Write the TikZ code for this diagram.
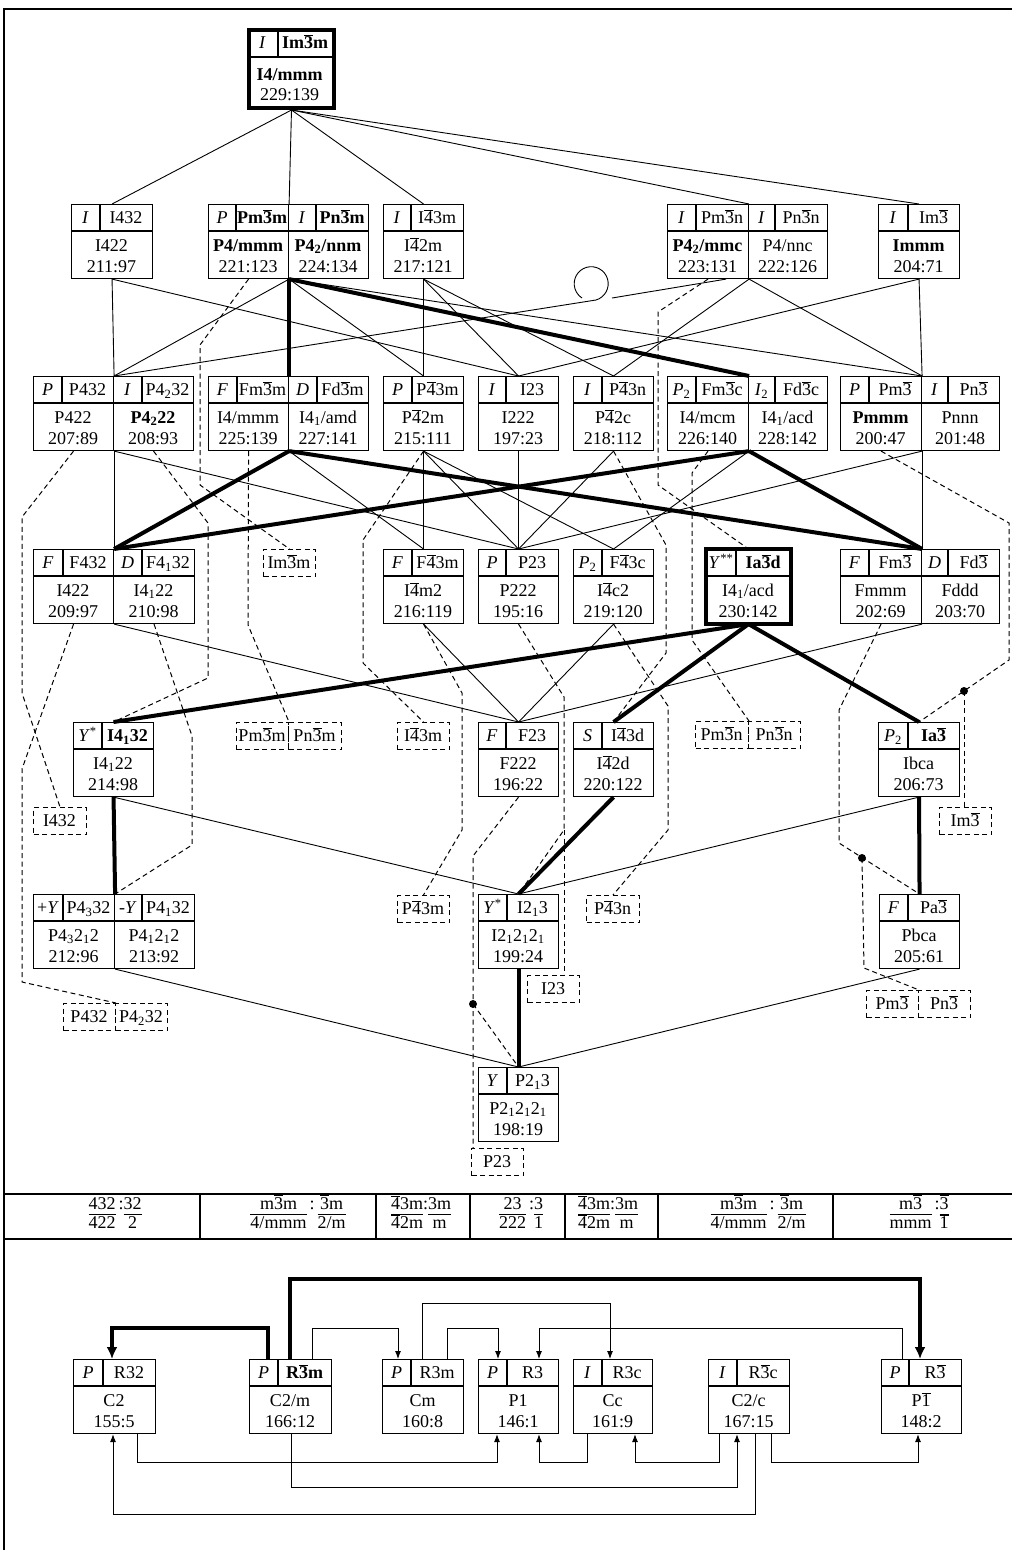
\documentclass[tikz,border=0pt]{standalone}
\usepackage{fontspec}
\setmainfont{Liberation Serif}
\usetikzlibrary{arrows.meta}
\newcommand{\ob}[1]{\ensuremath{\overline{\mbox{#1}}}}
\newcommand{\sbs}[1]{\textsubscript{#1}}
\newcommand{\fr}[2]{\begin{tabular}[t]{@{}c@{}}#1\\[-1pt]\hline #2\end{tabular}}
\tikzset{
 ln/.style={line width=0.9pt},
 tk/.style={line width=4pt},
 ds/.style={line width=1pt, dash pattern=on 5pt off 3.5pt},
 cell/.style={draw, line width=1.1pt, anchor=north west, inner sep=0pt, minimum height=74},
 tx/.style={inner sep=0pt, text height=12.5pt, text depth=0pt, font=\fontsize{18}{20}\selectfont},
 tbl/.style={inner sep=0pt, anchor=base, font=\fontsize{18}{20}\selectfont},
 dbox/.style={draw, ds, anchor=north west, inner sep=0pt, minimum height=27},
 dot/.style={circle, fill, inner sep=0pt, minimum size=8pt},
 arr/.style={ln, -{Latex[length=8pt,width=6pt]}},
 tarr/.style={tk, -{Latex[length=12pt,width=11pt]}},
}
\newcommand{\gbox}[9]{%
 \node[cell, minimum width={#4-#2}] (#1) at (#2,#5) {};
 \draw[line width=1.1pt] (#2,{#5+27}) -- (#4,{#5+27});
 \draw[line width=1.1pt] (#3,#5) -- (#3,{#5+27});
 \node[tx] (#1-l) at ({(#2+#3)/2},{#5+13.5}) {#6};
 \node[tx] (#1-s) at ({(#3+#4)/2},{#5+13.5}) {#7};
 \node[tx] (#1-n) at ({(#2+#4)/2},{#5+41}) {#8};
 \node[tx] (#1-c) at ({(#2+#4)/2},{#5+62}) {#9};
}
\newcommand{\dbx}[5]{%
 \node[dbox, minimum width={#3-#2}] (#1) at (#2,#4) {};
 \node[tx] (#1-t) at ({(#2+#3)/2},{#4+13.5}) {#5};
}
\begin{document}
\begin{tikzpicture}[x=1pt,y=-1pt]
\useasboundingbox (0,0) rectangle (1012,1550);
\draw[line width=1.1pt] (1012,9) -- (4,9) -- (4,1550);

% top box
\node[cell, line width=4pt, minimum width=85, minimum height=78] (T) at (247,28) {};
\draw[line width=1.1pt] (247,57) -- (332,57);
\draw[line width=1.1pt] (278,28) -- (278,57);
\node[tx] (T-l) at (262.5,42.5) {\textit{I}};
\node[tx] (T-s) at (305,42.5) {\textbf{Im\ob{3}m}};
\node[tx] (T-n) at (289.5,74) {\textbf{I4/mmm}};
\node[tx] (T-c) at (289.5,94) {229:139};

% row 2
\gbox{A1}{71}{100}{152}{204}{\textit{I}}{I432}{I422}{211:97}
\gbox{A2L}{208}{236}{288}{204}{\textit{P}}{\textbf{Pm\ob{3}m}}{\textbf{P4/mmm}}{221:123}
\gbox{A2R}{288}{316}{368}{204}{\textit{I}}{\textbf{Pn\ob{3}m}}{\textbf{P4\sbs{2}/nnm}}{224:134}
\gbox{A3}{383}{411}{463}{204}{\textit{I}}{I\ob{4}3m}{I\ob{4}2m}{217:121}
\gbox{A4L}{667}{696}{748}{204}{\textit{I}}{Pm\ob{3}n}{\textbf{P4\sbs{2}/mmc}}{223:131}
\gbox{A4R}{748}{775}{827}{204}{\textit{I}}{Pn\ob{3}n}{P4/nnc}{222:126}
\gbox{A5}{878}{908}{959}{204}{\textit{I}}{Im\ob{3}}{\textbf{Immm}}{204:71}

% row 3
\gbox{B1L}{33}{62}{113}{376}{\textit{P}}{P432}{P422}{207:89}
\gbox{B1R}{113}{142}{193}{376}{\textit{I}}{P4\sbs{2}32}{\textbf{P4\sbs{2}22}}{208:93}
\gbox{B2L}{208}{237}{288}{376}{\textit{F}}{Fm\ob{3}m}{I4/mmm}{225:139}
\gbox{B2R}{288}{317}{368}{376}{\textit{D}}{Fd\ob{3}m}{I4\sbs{1}/amd}{227:141}
\gbox{B3}{383}{412}{463}{376}{\textit{P}}{P\ob{4}3m}{P\ob{4}2m}{215:111}
\gbox{B4}{478}{506}{558}{376}{\textit{I}}{I23}{I222}{197:23}
\gbox{B5}{573}{602}{653}{376}{\textit{I}}{P\ob{4}3n}{P\ob{4}2c}{218:112}
\gbox{B6L}{667}{696}{748}{376}{\textit{P}\sbs{2}}{Fm\ob{3}c}{I4/mcm}{226:140}
\gbox{B6R}{748}{775}{827}{376}{\textit{I}\sbs{2}}{Fd\ob{3}c}{I4\sbs{1}/acd}{228:142}
\gbox{B7L}{840}{869}{921}{376}{\textit{P}}{Pm\ob{3}}{\textbf{Pmmm}}{200:47}
\gbox{B7R}{921}{948}{999}{376}{\textit{I}}{Pn\ob{3}}{Pnnn}{201:48}

% row 4
\gbox{C1L}{33}{63}{113}{549}{\textit{F}}{F432}{I422}{209:97}
\gbox{C1R}{113}{142}{194}{549}{\textit{D}}{F4\sbs{1}32}{I4\sbs{1}22}{210:98}
\dbx{C2}{263}{315}{549}{Im\ob{3}m}
\gbox{C3}{383}{412}{463}{549}{\textit{F}}{F\ob{4}3m}{I\ob{4}m2}{216:119}
\gbox{C4}{478}{506}{558}{549}{\textit{P}}{P23}{P222}{195:16}
\gbox{C5}{573}{602}{653}{549}{\textit{P}\sbs{2}}{F\ob{4}3c}{I\ob{4}c2}{219:120}
\gbox{C6}{706}{736}{790}{549}{\textit{Y}\textsuperscript{**}}{\textbf{Ia\ob{3}d}}{I4\sbs{1}/acd}{230:142}
\draw[line width=4pt] (C6.north west) rectangle (C6.south east);
\gbox{C7L}{840}{869}{921}{549}{\textit{F}}{Fm\ob{3}}{Fmmm}{202:69}
\gbox{C7R}{921}{948}{999}{549}{\textit{D}}{Fd\ob{3}}{Fddd}{203:70}

% row 5
\gbox{E1}{73}{102}{153}{722}{\textit{Y}\textsuperscript{*}}{\textbf{I4\sbs{1}32}}{I4\sbs{1}22}{214:98}
\dbx{dAL}{236}{288}{722}{Pm\ob{3}m}
\dbx{dAR}{288}{341}{722}{Pn\ob{3}m}
\dbx{dB}{397}{449}{722}{I\ob{4}3m}
\gbox{E2}{478}{506}{558}{722}{\textit{F}}{F23}{F222}{196:22}
\gbox{E3}{573}{602}{653}{722}{\textit{S}}{I\ob{4}3d}{I\ob{4}2d}{220:122}
\dbx{dCL}{695}{748}{721}{Pm\ob{3}n}
\dbx{dCR}{748}{800}{721}{Pn\ob{3}n}
\gbox{E4}{878}{908}{959}{722}{\textit{P}\sbs{2}}{\textbf{Ia\ob{3}}}{Ibca}{206:73}
\dbx{dD}{33}{86}{807}{I432}
\dbx{dE}{939}{991}{807}{Im\ob{3}}

% row 6
\gbox{F1L}{33}{63}{114}{894}{+\textit{Y}}{P4\sbs{3}32}{P4\sbs{3}2\sbs{1}2}{212:96}
\gbox{F1R}{114}{142}{194}{894}{-\textit{Y}}{P4\sbs{1}32}{P4\sbs{1}2\sbs{1}2}{213:92}
\dbx{dF}{397}{449}{895}{P\ob{4}3m}
\gbox{F2}{478}{507}{558}{894}{\textit{Y}\textsuperscript{*}}{I2\sbs{1}3}{I2\sbs{1}2\sbs{1}2\sbs{1}}{199:24}
\dbx{dG}{586}{639}{895}{P\ob{4}3n}
\gbox{F3}{879}{908}{959}{894}{\textit{F}}{Pa\ob{3}}{Pbca}{205:61}
\dbx{dH}{527}{579}{975}{I23}
\dbx{dIL}{63}{115}{1003}{P432}
\dbx{dIR}{115}{167}{1003}{P4\sbs{2}32}
\dbx{dJL}{866}{918}{990}{Pm\ob{3}}
\dbx{dJR}{918}{970}{990}{Pn\ob{3}}

% row 7
\gbox{G}{478}{507}{558}{1067}{\textit{Y}}{P2\sbs{1}3}{P2\sbs{1}2\sbs{1}2\sbs{1}}{198:19}
\dbx{dK}{471}{523}{1148}{P23}

% bullets
\node[dot] (b1) at (473,1004) {};
\node[dot] (b2) at (862,858) {};
\node[dot] (b3) at (964,691) {};

% ---- solid connectors
\draw[ln] (T.south) -- (A1.north);
\draw[ln] (T.south) -- (A2L.north east);
\draw[ln] (T.south) -- (A3.north);
\draw[ln] (T.south) -- (A4L.north east);
\draw[ln] (T.south) -- (A5.north);

\draw[ln] (A1.south) -- (B1L.north east);
\draw[ln] (A1.south) -- (B4.north);
\draw[ln] (A2L.south east) -- (B1L.north east);
\draw[tk] (A2L.south east) -- (B2L.north east);
\draw[ln] (A2L.south east) -- (B3.north);
\draw[tk] (A2L.south east) -- (B6L.north east);
\draw[ln] (A2L.south east) -- (B7L.north east);
\draw[ln] (A3.south) -- (B3.north);
\draw[ln] (A3.south) -- (B4.north);
\draw[ln] (A3.south) -- (B5.north);
\draw[ln] (A4L.south east) -- (B5.north);
\draw[ln] (A4L.south east) -- (B7L.north east);
\draw[ln] (B1L.north east) -- (596,300) arc[start angle=73.6, end angle=-237.3, radius=17];
\draw[ln] (612,298) -- (726,0 |- A4L.south);
\draw[ln] (A5.south) -- (B4.north);
\draw[ln] (A5.south) -- (B7L.north east);

\draw[ln] (B1L.south east) -- (C1L.north east);
\draw[ln] (B1L.south east) -- (C4.north);
\draw[tk] (B2L.south east) -- (C1L.north east);
\draw[ln] (B2L.south east) -- (C3.north);
\draw[tk] (B2L.south east) -- (C7L.north east);
\draw[ln] (B3.south) -- (C3.north);
\draw[ln] (B3.south) -- (C4.north);
\draw[ln] (B3.south) -- (C5.north);
\draw[ln] (B4.south) -- (C4.north);
\draw[ln] (B5.south) -- (C4.north);
\draw[tk] (B6L.south east) -- (C1L.north east);
\draw[ln] (B6L.south east) -- (C5.north);
\draw[tk] (B6L.south east) -- (C7L.north east);
\draw[ln] (B7L.south east) -- (C4.north);
\draw[ln] (B7L.south east) -- (C7L.north east);

\draw[ln] (C1L.south east) -- (E2.north);
\draw[ln] (C3.south) -- (E2.north);
\draw[ln] (C5.south) -- (E2.north);
\draw[ln] (C7L.south east) -- (E2.north);
\draw[tk] (C6.south) -- (E1.north);
\draw[tk] (C6.south) -- (E3.north);
\draw[tk] (C6.south) -- (E4.north);

\draw[tk] (E1.south) -- (F1L.north east);
\draw[ln] (E1.south) -- (F2.north);
\draw[tk] (E3.south) -- (F2.north);
\draw[ln] (E4.south) -- (F2.north);
\draw[tk] (E4.south) -- (F3.north);

\draw[ln] (F1L.south east) -- (G.north);
\draw[tk] (F2.south) -- (G.north);
\draw[ln] (F3.south) -- (G.north);

% ---- dashed connectors
\draw[ds] (A2L.south) -- (200,345) -- (200,485) -- (C2.north);
\draw[ds] (B2L.south) -- (248,625) -- (dAL.north east);
\draw[ds] (B1L.south) -- (22,517) -- (22,693) -- (dD.north);
\draw[ds] (C1L.south) -- (22,769) -- (22,982) -- (dIL.north east);
\draw[ds] (B1R.south) -- (208,523) -- (208,678) -- (E1.north);
\draw[ds] (C1R.south) -- (192,736) -- (192,845) -- (F1L.north east);
\draw[ds] (B3.south) -- (363,540) -- (363,663) -- (dB.north);
\draw[ds] (C3.south) -- (462,693) -- (462,830) -- (dF.north);
\draw[ds] (B5.south) -- (666,545) -- (666,653) -- (E3.north);
\draw[ds] (C5.south) -- (668,706) -- (668,830) -- (dG.north);
\draw[ds] (C4.south) -- (564,697) -- (564,830) -- (F2.north);
\draw[ds] (564,830) -- (564,0 |- dH.north);
\draw[ds] (E2.south) -- (473,856) -- (473,0 |- dK.north);
\draw[ds] (b1.center) -- (G.north);
\draw[ds] (C7L.south) -- (839,710) -- (839,843) -- (F3.north);
\draw[ds] (b2.center) -- (864,968) -- (dJL.north east);
\draw[ds] (B7L.south) -- (1009,523) -- (1009,660) -- (E4.north);
\draw[ds] (b3.center) -- (964,0 |- dE.north);
\draw[ds] (A4L.south) -- (658,312) -- (658,485) -- (C6.north);
\draw[ds] (B6L.south) -- (692,473) -- (692,640) -- (dCL.north east);

% ---- table
\draw[line width=1.1pt] (4,1194) -- (1012,1194);
\draw[line width=1.1pt] (4,1239) -- (1012,1239);
\foreach \xx in {200,376,470,565,658,833} \draw[line width=1.1pt] (\xx,1194) -- (\xx,1239);
\node[tbl] (t1) at (115,1209) {\fr{432}{422}\,:\fr{32}{2}};
\node[tbl] (t2) at (298,1209) {\fr{m\ob{3}m}{4/mmm}\,:\,\fr{\ob{3}m}{2/m}};
\node[tbl] (t3) at (421,1209) {\fr{\ob{4}3m}{\ob{4}2m}:\fr{3m}{m}};
\node[tbl] (t4) at (521,1209) {\fr{23}{222}\,:\fr{3}{1}};
\node[tbl] (t5) at (608,1209) {\fr{\ob{4}3m}{\ob{4}2m}:\fr{3m}{m}};
\node[tbl] (t6) at (758,1209) {\fr{m\ob{3}m}{4/mmm}\,:\,\fr{\ob{3}m}{2/m}};
\node[tbl] (t7) at (919,1209) {\fr{m\ob{3}}{mmm}\,:\fr{\ob{3}}{\ob{1}}};

% ---- bottom section
\gbox{H1}{73}{103}{155}{1359}{\textit{P}}{R32}{C2}{155:5}
\gbox{H2}{249}{278}{331}{1359}{\textit{P}}{\textbf{R\ob{3}m}}{C2/m}{166:12}
\gbox{H3}{382}{411}{463}{1359}{\textit{P}}{R3m}{Cm}{160:8}
\gbox{H4}{478}{507}{558}{1359}{\textit{P}}{R3}{P1}{146:1}
\gbox{H5}{573}{602}{652}{1359}{\textit{I}}{R3c}{Cc}{161:9}
\gbox{H6}{708}{737}{789}{1359}{\textit{I}}{R\ob{3}c}{C2/c}{167:15}
\gbox{H7}{881}{909}{961}{1359}{\textit{P}}{R\ob{3}}{P\ob{1}}{148:2}

\draw[tarr] (268,0 |- H2.north) -- (268,1328) -| (112,0 |- H1.north);
\draw[tarr] (290,0 |- H2.north) -- (290,1279) -| (920,0 |- H7.north);
\draw[arr] (312,0 |- H2.north) -- (312,1328) -| (398,0 |- H3.north);
\draw[arr] (422,0 |- H3.north) -- (422,1303) -| (610,0 |- H5.north);
\draw[arr] (447,0 |- H3.north) -- (447,1328) -| (498,0 |- H4.north);
\draw[arr] (902,0 |- H7.north) -- (902,1328) -| (539,0 |- H4.north);
\draw[arr] (137,0 |- H1.south) -- (137,1462) -| (497,0 |- H4.south);
\draw[arr] (587,0 |- H5.south) -- (587,1462) -| (539,0 |- H4.south);
\draw[arr] (719,0 |- H6.south) -- (719,1462) -| (635,0 |- H5.south);
\draw[arr] (771,0 |- H6.south) -- (771,1462) -| (918,0 |- H7.south);
\draw[arr] (291,0 |- H2.south) -- (291,1487) -| (737,0 |- H6.south);
\draw[arr] (755,0 |- H6.south) -- (755,1514) -| (113,0 |- H1.south);
\end{tikzpicture}
\end{document}
